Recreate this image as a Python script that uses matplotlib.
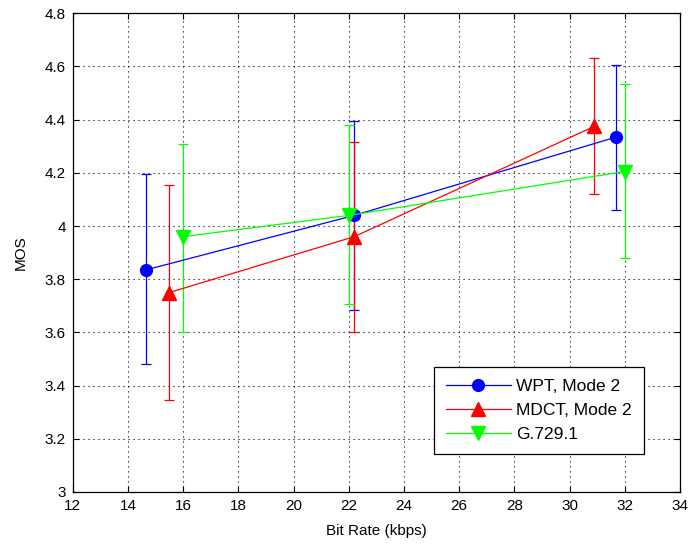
import matplotlib
matplotlib.use("Agg")
import matplotlib.pyplot as plt

# Mean opinion scores at each bit rate, with upper/lower confidence bounds
wpt_rate = [14.65, 22.2, 31.7]
wpt_mos = [3.835, 4.04, 4.335]
wpt_hi = [4.195, 4.395, 4.605]
wpt_lo = [3.48, 3.685, 4.06]

mdct_rate = [15.5, 22.2, 30.9]
mdct_mos = [3.75, 3.96, 4.375]
mdct_hi = [4.155, 4.315, 4.63]
mdct_lo = [3.345, 3.60, 4.12]

g729_rate = [16.0, 22.0, 32.0]
g729_mos = [3.96, 4.04, 4.205]
g729_hi = [4.31, 4.38, 4.535]
g729_lo = [3.60, 3.705, 3.88]

x_ticks = [12, 14, 16, 18, 20, 22, 24, 26, 28, 30, 32, 34]
y_ticks = [3, 3.2, 3.4, 3.6, 3.8, 4, 4.2, 4.4, 4.6, 4.8]
y_labels = ["3", "3.2", "3.4", "3.6", "3.8", "4", "4.2", "4.4", "4.6", "4.8"]

plt.rcParams["font.family"] = ["Liberation Sans", "DejaVu Sans"]
plt.rcParams["font.size"] = 11

fig = plt.figure(figsize=(6.89, 5.44), dpi=100)
ax = fig.add_axes([0.1055, 0.0956, 0.8814, 0.88])

series = [
    ("WPT, Mode 2", wpt_rate, wpt_mos, wpt_hi, wpt_lo, (0, 0, 1), "o", 8.5),
    ("MDCT, Mode 2", mdct_rate, mdct_mos, mdct_hi, mdct_lo, (1, 0, 0), "^", 9.5),
    ("G.729.1", g729_rate, g729_mos, g729_hi, g729_lo, (0, 1, 0), "v", 9.5),
]

for label, x, y, hi, lo, color, marker, ms in series:
    err = [[m - l for m, l in zip(y, lo)], [h - m for m, h in zip(y, hi)]]
    ax.errorbar(x, y, yerr=err, fmt="none", ecolor=color, elinewidth=0.9,
                capsize=3.6, capthick=0.9, zorder=3)
    ax.plot(x, y, color=color, lw=0.9, marker=marker, ms=ms,
            markerfacecolor=color, markeredgecolor=color, label=label, zorder=4)

ax.set_xlim(12, 34)
ax.set_ylim(3, 4.8)
ax.set_xticks(x_ticks)
ax.set_yticks(y_ticks)
ax.set_yticklabels(y_labels)
ax.grid(True, linestyle=(0, (1, 3.5)), color="black", linewidth=0.8)
ax.tick_params(direction="in", top=True, right=True, length=4.5, width=0.8,
               colors="black", labelsize=11)
ax.tick_params(axis="y", pad=5)
ax.tick_params(axis="x", pad=5)
for s in ax.spines.values():
    s.set_linewidth(0.9)

ax.set_xlabel("Bit Rate (kbps)", fontsize=11, labelpad=8)
ax.set_ylabel("MOS", fontsize=11, labelpad=12)

leg = ax.legend(loc="lower right", bbox_to_anchor=(0.94, 0.079),
                fancybox=False, framealpha=1, edgecolor="black",
                borderpad=0.7, handlelength=3.7, handletextpad=0.3,
                fontsize=12.5, labelspacing=0.5, borderaxespad=0)
leg.get_frame().set_linewidth(0.9)

fig.savefig("out.png", dpi=100)
